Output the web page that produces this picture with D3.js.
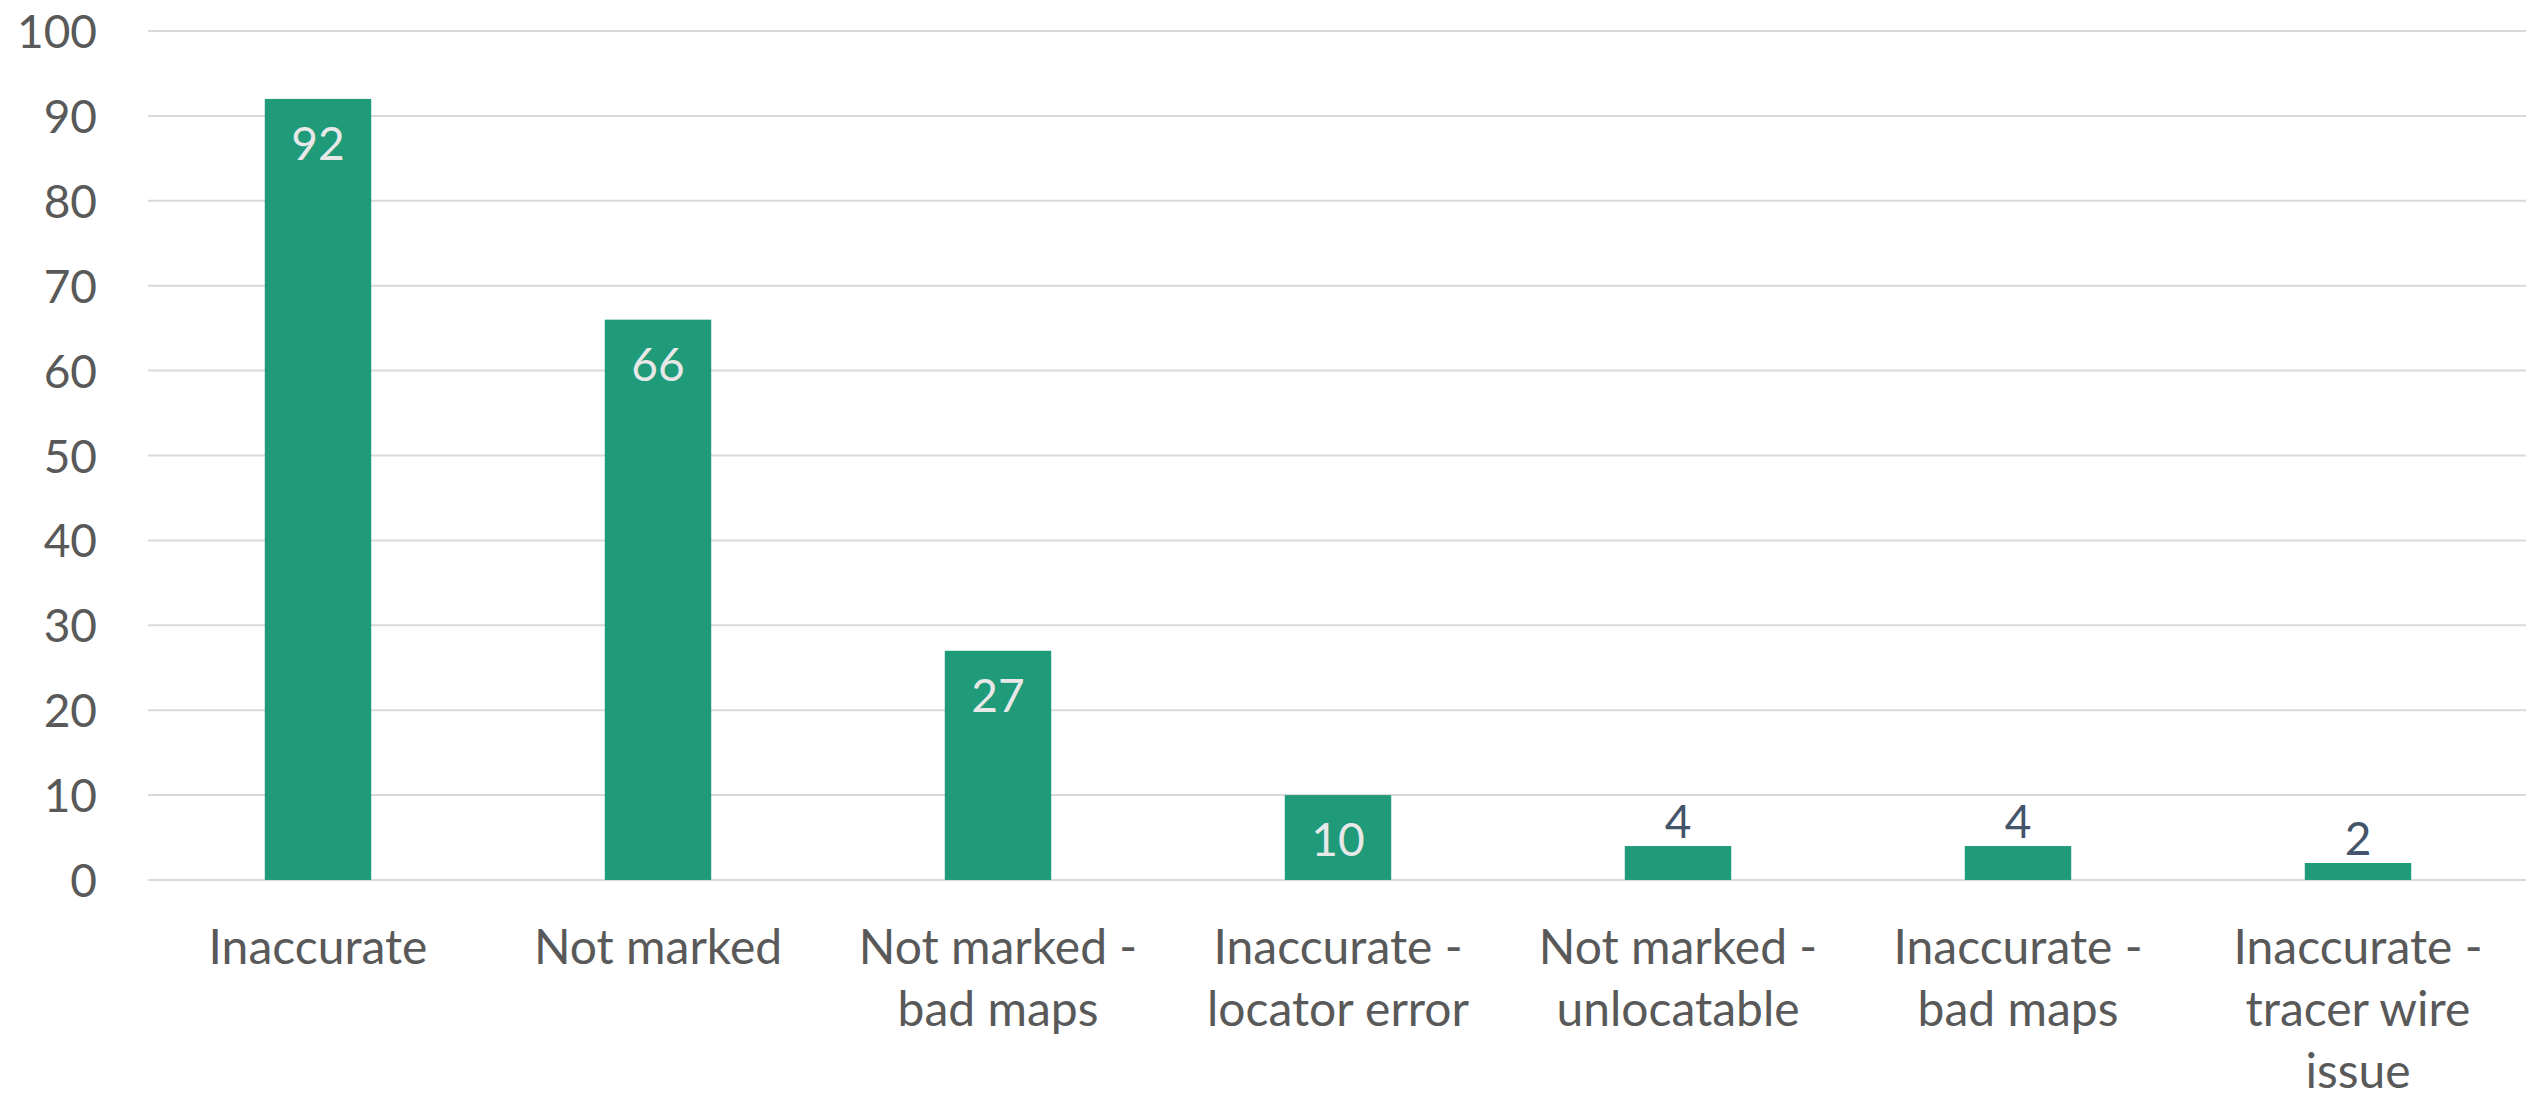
<!doctype html>
<html>
<head>
<meta charset="utf-8" />
<script src="https://cdn.jsdelivr.net/npm/d3@7"></script>
<style>
  html, body { margin: 0; padding: 0; background: #fff; }
  svg text { font-family: Lato, "Open Sans", sans-serif; }
</style>
</head>
<body>
<div id="chart"></div>
<script>
// data
var categories = [
  "Inaccurate",
  "Not marked",
  "Not marked - bad maps",
  "Inaccurate - locator error",
  "Not marked - unlocatable",
  "Inaccurate - bad maps",
  "Inaccurate - tracer wire issue"
];
var counts = [92, 66, 27, 10, 4, 4, 2];
var yTicks = [0, 10, 20, 30, 40, 50, 60, 70, 80, 90, 100];

var W = 2526, H = 1099;
var numSize = 46, catSize = 48;

var svg = d3.select("#chart").append("svg")
  .attr("width", W)
  .attr("height", H);

var x = d3.scaleBand()
  .domain(categories)
  .range([148, 2528])
  .paddingInner(0.687)
  .paddingOuter(0.3435);

var y = d3.scaleLinear()
  .domain([0, 100])
  .range([880, 31]);

// gridlines
svg.append("g")
  .selectAll("line")
  .data(yTicks)
  .join("line")
  .attr("x1", 148)
  .attr("x2", 2528)
  .attr("y1", function (d) { return y(d); })
  .attr("y2", function (d) { return y(d); })
  .attr("stroke", "#d9d9d9")
  .attr("stroke-width", 2);

// y axis labels
var yAxis = d3.axisLeft(y).tickValues(yTicks).tickSize(0).tickPadding(0);
var yg = svg.append("g")
  .attr("transform", "translate(97,0)")
  .call(yAxis);
yg.select(".domain").remove();
yg.selectAll("text")
  .attr("font-size", numSize)
  .attr("font-family", "Lato, sans-serif")
  .attr("fill", "#595959")
  .attr("dy", "0.36em");

// bars
svg.append("g")
  .selectAll("rect")
  .data(counts)
  .join("rect")
  .attr("x", function (d, i) { return x(categories[i]); })
  .attr("y", function (d) { return y(d); })
  .attr("width", x.bandwidth())
  .attr("height", function (d) { return y(0) - y(d); })
  .attr("fill", "#1f9b7a");

// value labels: inside for tall bars, above for short ones
svg.append("g")
  .selectAll("text")
  .data(counts)
  .join("text")
  .attr("x", function (d, i) { return x(categories[i]) + x.bandwidth() / 2; })
  .attr("y", function (d) {
    return (y(0) - y(d)) > 70 ? y(d) + 61 : y(d) - 8;
  })
  .attr("text-anchor", "middle")
  .attr("font-size", numSize)
  .attr("fill", function (d) { return (y(0) - y(d)) > 70 ? "#e8e8e8" : "#44546a"; })
  .text(function (d) { return d; });

// category labels, wrapped
var maxLineW = 290;
var measure = svg.append("text").attr("font-size", catSize).attr("visibility", "hidden");
function wrap(str) {
  var words = str.split(" "), lines = [], cur = "";
  words.forEach(function (w) {
    var test = cur ? cur + " " + w : w;
    measure.text(test);
    if (cur && measure.node().getComputedTextLength() > maxLineW) {
      lines.push(cur);
      cur = w;
    } else {
      cur = test;
    }
  });
  if (cur) lines.push(cur);
  return lines;
}

var xg = svg.append("g");
categories.forEach(function (c) {
  var t = xg.append("text")
    .attr("x", x(c) + x.bandwidth() / 2)
    .attr("y", 964)
    .attr("text-anchor", "middle")
    .attr("font-size", catSize)
    .attr("fill", "#595959");
  wrap(c).forEach(function (line, k) {
    t.append("tspan")
      .attr("x", x(c) + x.bandwidth() / 2)
      .attr("dy", k === 0 ? 0 : 62)
      .text(line);
  });
});
measure.remove();
</script>
</body>
</html>
